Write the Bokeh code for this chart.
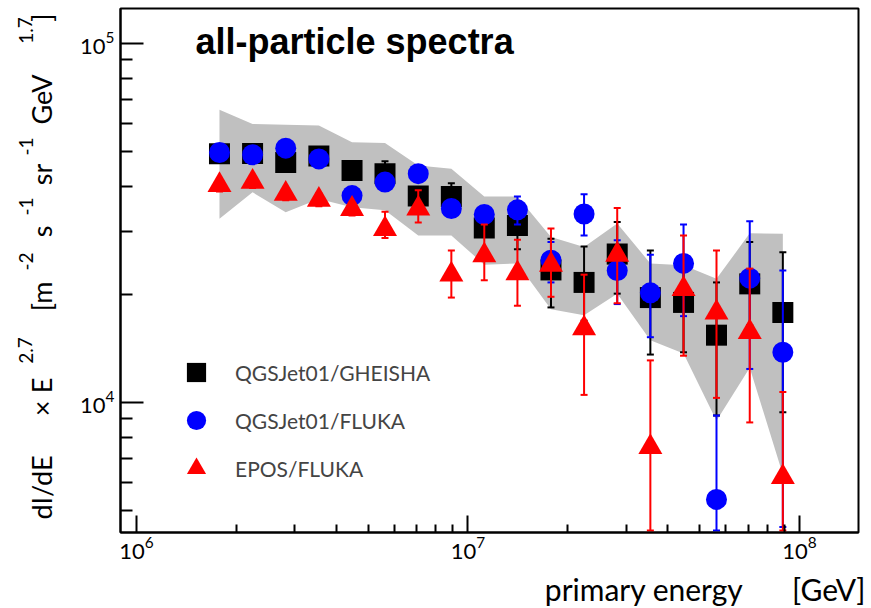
from bokeh.plotting import figure
from bokeh.layouts import row, column
from bokeh.models import (ColumnDataSource, Whisker, TeeHead, FixedTicker,
                          LogTickFormatter, Label, Legend, LegendItem, Range1d)
from bokeh.embed import file_html
from bokeh.resources import INLINE

# primary energy bin centres [GeV]
energy = [1.78e6, 2.24e6, 2.82e6, 3.55e6, 4.47e6, 5.62e6, 7.08e6, 8.91e6, 1.12e7,
          1.41e7, 1.78e7, 2.24e7, 2.82e7, 3.55e7, 4.47e7, 5.62e7, 7.08e7, 8.91e7]

# dI/dE x E^2.7 for the three interaction-model combinations
qgs_gheisha = [49300, 49400, 46600, 48600, 44300, 43400, 37600, 37500, 30600,
               31100, 23400, 21600, 25900, 19600, 19000, 15400, 21400, 17800]
qgs_gheisha_hi = [51300, 51400, 48500, 50500, 46100, 47000, 39500, 40800, 32100,
                  35800, 28600, 27200, 31800, 26500, 25700, 21600, 28000, 26200]
qgs_gheisha_lo = [47300, 47400, 44700, 46700, 42500, 40200, 35700, 34500, 29100,
                  26700, 18400, 16900, 20100, 13600, 13800, 9200, 16400, 9400]

qgs_fluka = [49700, 49000, 51100, 47700, 37700, 41100, 43400, 34700, 33400,
             34400, 24900, 33500, 23300, 20200, 24400, 5370, 22200, 13800]
qgs_fluka_hi = [51200, 50500, 52600, 49100, 38800, 42300, 44700, 35700, 34400,
                37500, 28000, 38000, 28300, 25800, 31300, 9200, 32000, 23300]
qgs_fluka_lo = [48200, 47500, 49600, 46300, 36600, 39900, 42100, 33700, 32400,
                31300, 21600, 29200, 18800, 15200, 17400, 4400, 12400, 4500]

epos_fluka = [40300, 41200, 38100, 36700, 34600, 30400, 34700, 22700, 25700,
              22900, 24200, 16100, 25800, 7510, 20700, 17800, 15700, 6200]
epos_fluka_hi = [41900, 42800, 39600, 38200, 36000, 34000, 39000, 26500, 31300,
                 28400, 30500, 22700, 34800, 13100, 29200, 26500, 23600, 10700]
epos_fluka_lo = [38700, 39600, 36600, 35200, 33200, 28700, 31700, 19600, 21900,
                 18600, 19700, 10500, 18900, 4400, 13500, 10300, 8800, 4400]

# systematic uncertainty band
band_hi = [65400, 59700, 59400, 59100, 53100, 52800, 45700, 44800, 37500,
           37500, 28900, 27100, 31500, 24400, 24100, 22100, 29600, 29500]
band_lo = [32500, 38500, 33900, 36900, 35000, 34300, 29200, 29200, 24200,
           24400, 18200, 17500, 20100, 14900, 13700, 8900, 12500, 6300]

# axis ticks
x_major = [1e6, 1e7, 1e8]
x_minor = [2e6, 3e6, 4e6, 5e6, 6e6, 7e6, 8e6, 9e6,
           2e7, 3e7, 4e7, 5e7, 6e7, 7e7, 8e7, 9e7]
y_major = [1e4, 1e5]
y_minor = [5e3, 6e3, 7e3, 8e3, 9e3,
           2e4, 3e4, 4e4, 5e4, 6e4, 7e4, 8e4, 9e4]

FONT = "Lato"
LEFT_W = 65       # strip holding the vertical axis title
BOTTOM_H = 40     # strip holding the horizontal axis title
TOP_H = 608 - BOTTOM_H
FRAME_BOTTOM = 532  # canvas row of the data frame's lower edge


def text_strip(w, h):
    f = figure(width=w, height=h, output_backend="svg", toolbar_location=None,
               x_range=Range1d(0, w), y_range=Range1d(0, h),
               x_axis_location=None, y_axis_location=None,
               min_border=0, outline_line_color=None)
    f.grid.visible = False
    f.background_fill_color = "white"
    f.border_fill_color = "white"
    return f


p = figure(width=871 - LEFT_W, height=TOP_H, x_axis_type="log", y_axis_type="log",
           x_range=Range1d(8.95e5, 1.507e8), y_range=Range1d(4344, 1.2515e5),
           output_backend="svg", toolbar_location=None,
           min_border_left=120 - LEFT_W, min_border_right=13,
           min_border_top=8, min_border_bottom=TOP_H - FRAME_BOTTOM)
p.grid.visible = False
p.outline_line_color = "black"
p.outline_line_width = 2
p.background_fill_color = "white"
p.border_fill_color = "white"

for ax in (p.xaxis[0], p.yaxis[0]):
    ax.axis_line_width = 2
    ax.axis_line_color = "black"
    ax.major_tick_line_color = "black"
    ax.minor_tick_line_color = "black"
    ax.major_tick_line_width = 2
    ax.minor_tick_line_width = 2
    ax.major_tick_out = 0
    ax.minor_tick_out = 0
    ax.formatter = LogTickFormatter()
    ax.major_label_text_font = FONT
    ax.major_label_text_font_size = "22px"
    ax.major_label_text_color = "black"

p.xaxis.ticker = FixedTicker(ticks=x_major, minor_ticks=x_minor)
p.yaxis.ticker = FixedTicker(ticks=y_major, minor_ticks=y_minor)
p.xaxis.major_tick_in = 17
p.xaxis.minor_tick_in = 8
p.xaxis.major_label_standoff = 4
p.yaxis.major_tick_in = 23
p.yaxis.minor_tick_in = 12
p.yaxis.major_label_standoff = 6

# grey uncertainty band
p.varea(x=energy, y1=band_lo, y2=band_hi, fill_color="#c0c0c0")


def series(vals, lo, hi, color, marker, size):
    src = ColumnDataSource(dict(x=energy, y=vals, lo=lo, hi=hi))
    w = Whisker(base="x", upper="hi", lower="lo", source=src, dimension="height",
                line_color=color, line_width=2, level="glyph",
                upper_head=TeeHead(size=7, line_color=color, line_width=2),
                lower_head=TeeHead(size=7, line_color=color, line_width=2))
    p.renderers.append(w)
    return p.scatter("x", "y", source=src, marker=marker, size=size,
                     fill_color=color, line_color=color, line_width=0)


r_sq = series(qgs_gheisha, qgs_gheisha_lo, qgs_gheisha_hi, "black", "square", 21)
r_ci = series(qgs_fluka, qgs_fluka_lo, qgs_fluka_hi, "#0000ff", "circle", 21)
r_tr = series(epos_fluka, epos_fluka_lo, epos_fluka_hi, "#ff0000", "triangle", 24)

legend = Legend(items=[LegendItem(label="QGSJet01/GHEISHA", renderers=[r_sq]),
                       LegendItem(label="QGSJet01/FLUKA", renderers=[r_ci]),
                       LegendItem(label="EPOS/FLUKA", renderers=[r_tr])],
                location=(52, 40), glyph_width=48, glyph_height=48, spacing=0,
                padding=0, margin=0, label_standoff=15,
                border_line_alpha=0, background_fill_alpha=0,
                label_text_font=FONT, label_text_font_size="21px")
p.add_layout(legend)

p.add_layout(Label(x=75, y=FRAME_BOTTOM - 41, x_units="screen", y_units="screen",
                   text="all-particle spectra", text_font="Liberation Sans",
                   text_font_style="bold", text_font_size="36px",
                   text_baseline="middle", text_color="black"))

# vertical axis title, written piece by piece with raised exponents
# (the strip's frame shares its lower edge with the data frame)
left = text_strip(LEFT_W, TOP_H)
ylab = [("dI/dE", 487, False), ("\u00d7", 408, False), ("E", 385, False),
        ("2.7", 350, True), ("[m", 296, False), ("-2", 261, True),
        ("s", 231, False), ("-1", 206, True), ("sr", 174, False),
        ("-1", 146, True), ("GeV", 99, False), ("1.7", 30, True),
        ("]", 17, False)]
for txt, ypx, sup in ylab:
    left.add_layout(Label(x=25 if sup else 41, y=FRAME_BOTTOM - ypx,
                          x_units="screen", y_units="screen", angle=1.5708,
                          text=txt, text_font=FONT,
                          text_font_size="19px" if sup else "27px",
                          text_align="center", text_baseline="middle",
                          text_color="black"))

# horizontal axis title, right-aligned under the frame
bottom = text_strip(871, BOTTOM_H)
for txt, right_px in (("primary energy", 743), ("[GeV]", 865)):
    bottom.add_layout(Label(x=right_px, y=608 - 588, x_units="screen",
                            y_units="screen", text=txt, text_font=FONT,
                            text_font_size="30px", text_align="right",
                            text_baseline="middle", text_color="black"))

layout = column(row(left, p, spacing=0), bottom, spacing=0)
open("out.html", "w").write(file_html(layout, INLINE))
